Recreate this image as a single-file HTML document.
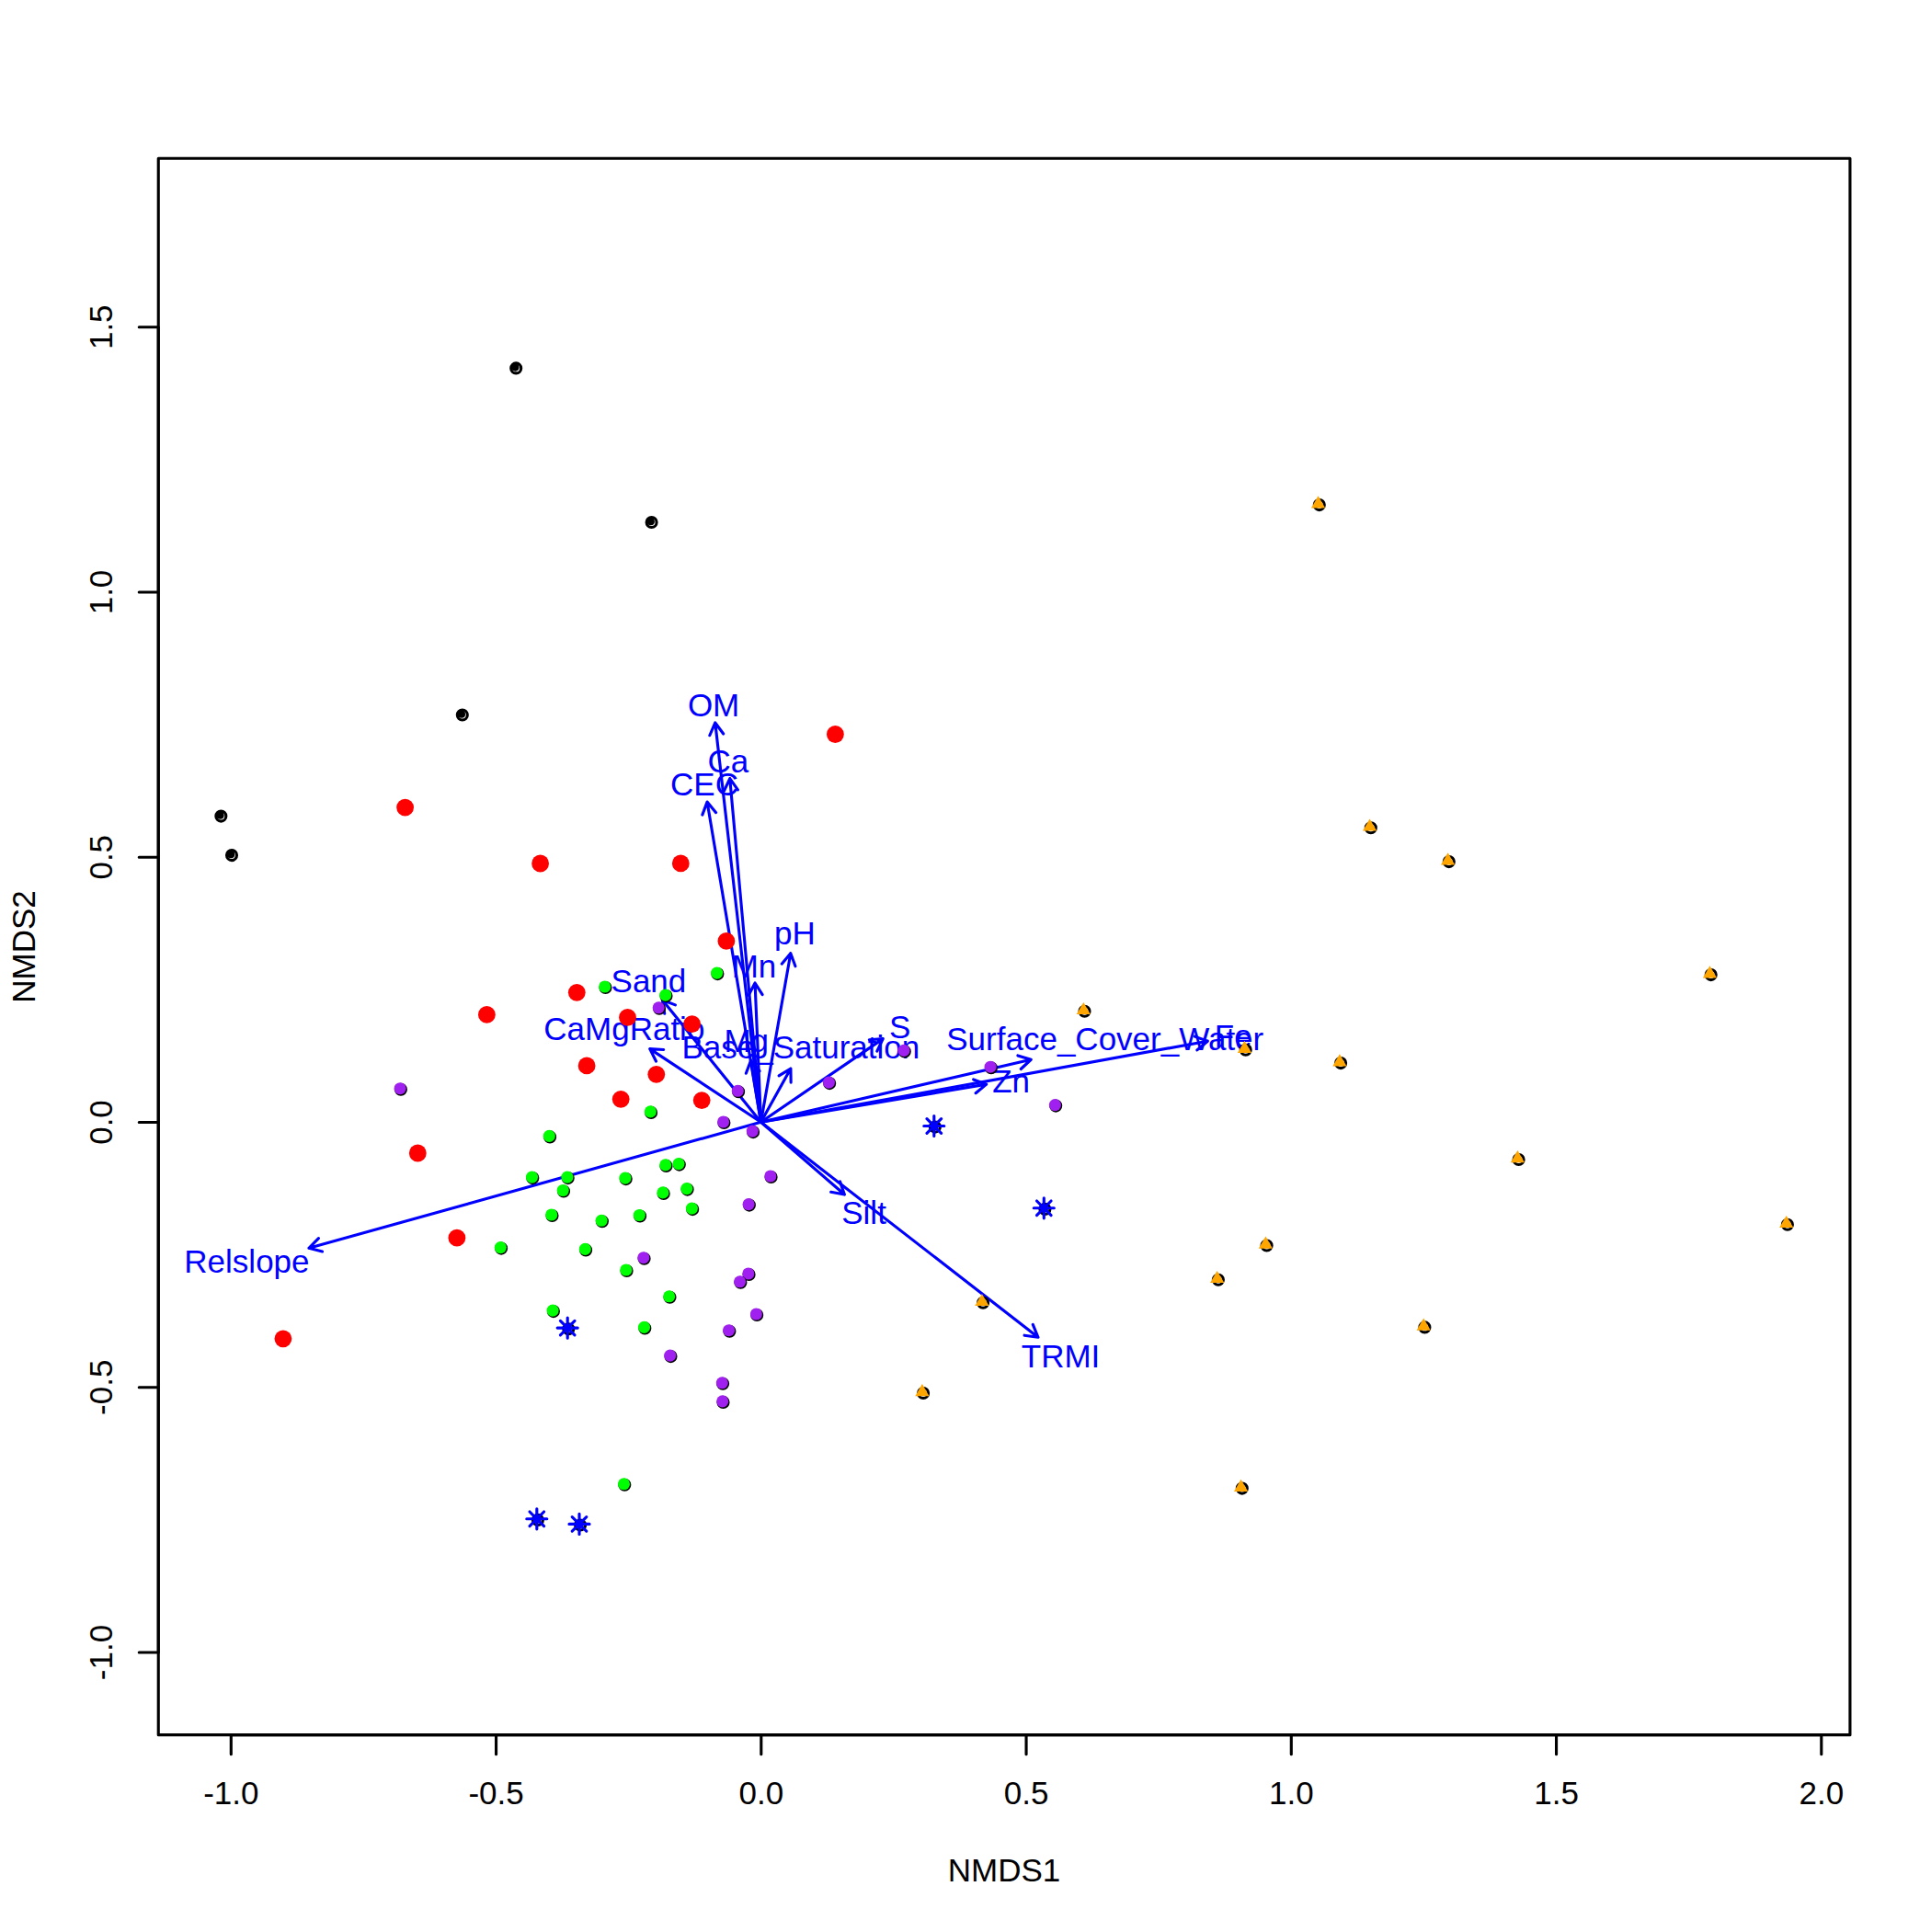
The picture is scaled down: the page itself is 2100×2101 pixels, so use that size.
<!DOCTYPE html>
<html><head><meta charset="utf-8"><title>NMDS ordination</title>
<style>html,body{margin:0;padding:0;background:#fff}svg{display:block}text{font-family:"Liberation Sans",sans-serif;font-size:35px}</style>
</head><body>
<svg width="2100" height="2101" viewBox="0 0 2100 2101">
<rect width="2100" height="2101" fill="#fff"/>
<g fill="none" stroke="#0000FF" stroke-width="3.12" stroke-linecap="round" stroke-linejoin="round">
<path d="M827.5 1220.3L777.78 785.99M771.81 799.75L777.78 785.99L786.71 798.04"/>
<path d="M827.5 1220.3L793.74 846.59M787.44 860.21L793.74 846.59L802.38 858.86"/>
<path d="M827.5 1220.3L769.06 872.08M763.82 886.13L769.06 872.08L778.61 883.65"/>
<path d="M827.5 1220.3L859.82 1036.68M850.18 1048.17L859.82 1036.68L864.96 1050.77"/>
<path d="M827.5 1220.3L821.07 1069M814.13 1082.3L821.07 1069L829.11 1081.66"/>
<path d="M827.5 1220.3L720.4 1087.45M722.72 1102.27L720.4 1087.45L734.4 1092.85"/>
<path d="M827.5 1220.3L706.74 1140.58M713.44 1154L706.74 1140.58L721.71 1141.48"/>
<path d="M827.5 1220.3L816.66 1153.18M811.32 1167.2L816.66 1153.18L826.13 1164.81"/>
<path d="M827.5 1220.3L859.92 1162.1M847.05 1169.8L859.92 1162.1L860.15 1177.1"/>
<path d="M827.5 1220.3L960.28 1129.6M945.32 1130.74L960.28 1129.6L953.78 1143.12"/>
<path d="M827.5 1220.3L1121.24 1152.26M1106.89 1147.89L1121.24 1152.26L1110.28 1162.5"/>
<path d="M827.5 1220.3L1313.33 1132.19M1299.21 1127.12L1313.33 1132.19L1301.88 1141.88"/>
<path d="M827.5 1220.3L1072.72 1179.16M1058.67 1173.92L1072.72 1179.16L1061.15 1188.71"/>
<path d="M827.5 1220.3L918.39 1299.05M913.48 1284.88L918.39 1299.05L903.66 1296.21"/>
<path d="M827.5 1220.3L1128.94 1454.22M1123.27 1440.33L1128.94 1454.22L1114.08 1452.18"/>
<path d="M827.5 1220.3L335.94 1357.27M350.47 1361.01L335.94 1357.27L346.44 1346.56"/>
</g>
<g fill="#0000FF" text-anchor="middle">
<text x="776.1" y="778.6">OM</text>
<text x="791.9" y="839.8">Ca</text>
<text x="766" y="864.5">CEC</text>
<text x="864.35" y="1027.1">pH</text>
<text x="820" y="1062.7">Mn</text>
<text x="705.45" y="1078.9">Sand</text>
<text x="678.85" y="1130.5">CaMgRatio</text>
<text x="811.75" y="1143.6">Mg</text>
<text x="870.8" y="1151.3">Base_Saturation</text>
<text x="978.75" y="1128.9">S</text>
<text x="1201.75" y="1142">Surface_Cover_Water</text>
<text x="1341.3" y="1139">Fe</text>
<text x="1099.6" y="1187.7">Zn</text>
<text x="939.55" y="1330.8">Silt</text>
<text x="1153.55" y="1486.6">TRMI</text>
<text x="268.45" y="1384.3">Relslope</text>
</g>
<g>
<circle cx="561.2" cy="400.4" r="5.5" fill="none" stroke="#000" stroke-width="3.1"/>
<circle cx="560.35" cy="399.55" r="4.1" fill="#000"/>
<circle cx="708.6" cy="568" r="5.5" fill="none" stroke="#000" stroke-width="3.1"/>
<circle cx="707.75" cy="567.15" r="4.1" fill="#000"/>
<circle cx="502.8" cy="777.5" r="5.5" fill="none" stroke="#000" stroke-width="3.1"/>
<circle cx="501.95" cy="776.65" r="4.1" fill="#000"/>
<circle cx="240.35" cy="887.6" r="5.5" fill="none" stroke="#000" stroke-width="3.1"/>
<circle cx="239.5" cy="886.75" r="4.1" fill="#000"/>
<circle cx="252" cy="930.1" r="5.5" fill="none" stroke="#000" stroke-width="3.1"/>
<circle cx="251.15" cy="929.25" r="4.1" fill="#000"/>
<circle cx="908.4" cy="798.5" r="9.4" fill="#FF0000"/>
<circle cx="440.6" cy="878.1" r="9.4" fill="#FF0000"/>
<circle cx="587.6" cy="939" r="9.4" fill="#FF0000"/>
<circle cx="740.3" cy="938.9" r="9.4" fill="#FF0000"/>
<circle cx="789.9" cy="1023.4" r="9.4" fill="#FF0000"/>
<circle cx="627.3" cy="1079.3" r="9.4" fill="#FF0000"/>
<circle cx="529.4" cy="1103.4" r="9.4" fill="#FF0000"/>
<circle cx="682.5" cy="1106.4" r="9.4" fill="#FF0000"/>
<circle cx="752.6" cy="1113.7" r="9.4" fill="#FF0000"/>
<circle cx="638.1" cy="1158.9" r="9.4" fill="#FF0000"/>
<circle cx="713.8" cy="1168.3" r="9.4" fill="#FF0000"/>
<circle cx="675.2" cy="1195.3" r="9.4" fill="#FF0000"/>
<circle cx="763.2" cy="1196.6" r="9.4" fill="#FF0000"/>
<circle cx="454.3" cy="1254" r="9.4" fill="#FF0000"/>
<circle cx="496.9" cy="1346.2" r="9.4" fill="#FF0000"/>
<circle cx="307.9" cy="1455.8" r="9.4" fill="#FF0000"/>
<circle cx="780.4" cy="1059.1" r="5.5" fill="none" stroke="#000" stroke-width="3.1"/>
<circle cx="779.6" cy="1058.1" r="6.55" fill="#00FF00"/>
<circle cx="658.5" cy="1074" r="5.5" fill="none" stroke="#000" stroke-width="3.1"/>
<circle cx="657.7" cy="1073" r="6.55" fill="#00FF00"/>
<circle cx="724.5" cy="1083.1" r="5.5" fill="none" stroke="#000" stroke-width="3.1"/>
<circle cx="723.7" cy="1082.1" r="6.55" fill="#00FF00"/>
<circle cx="708.1" cy="1209.9" r="5.5" fill="none" stroke="#000" stroke-width="3.1"/>
<circle cx="707.3" cy="1208.9" r="6.55" fill="#00FF00"/>
<circle cx="598.1" cy="1236.4" r="5.5" fill="none" stroke="#000" stroke-width="3.1"/>
<circle cx="597.3" cy="1235.4" r="6.55" fill="#00FF00"/>
<circle cx="724.5" cy="1267.9" r="5.5" fill="none" stroke="#000" stroke-width="3.1"/>
<circle cx="723.7" cy="1266.9" r="6.55" fill="#00FF00"/>
<circle cx="738.8" cy="1266.6" r="5.5" fill="none" stroke="#000" stroke-width="3.1"/>
<circle cx="738" cy="1265.6" r="6.55" fill="#00FF00"/>
<circle cx="579.3" cy="1281.1" r="5.5" fill="none" stroke="#000" stroke-width="3.1"/>
<circle cx="578.5" cy="1280.1" r="6.55" fill="#00FF00"/>
<circle cx="617.7" cy="1281.1" r="5.5" fill="none" stroke="#000" stroke-width="3.1"/>
<circle cx="616.9" cy="1280.1" r="6.55" fill="#00FF00"/>
<circle cx="680.7" cy="1282.1" r="5.5" fill="none" stroke="#000" stroke-width="3.1"/>
<circle cx="679.9" cy="1281.1" r="6.55" fill="#00FF00"/>
<circle cx="613" cy="1295.5" r="5.5" fill="none" stroke="#000" stroke-width="3.1"/>
<circle cx="612.2" cy="1294.5" r="6.55" fill="#00FF00"/>
<circle cx="747.6" cy="1293.6" r="5.5" fill="none" stroke="#000" stroke-width="3.1"/>
<circle cx="746.8" cy="1292.6" r="6.55" fill="#00FF00"/>
<circle cx="721.7" cy="1297.9" r="5.5" fill="none" stroke="#000" stroke-width="3.1"/>
<circle cx="720.9" cy="1296.9" r="6.55" fill="#00FF00"/>
<circle cx="753.2" cy="1315.1" r="5.5" fill="none" stroke="#000" stroke-width="3.1"/>
<circle cx="752.4" cy="1314.1" r="6.55" fill="#00FF00"/>
<circle cx="600.5" cy="1322" r="5.5" fill="none" stroke="#000" stroke-width="3.1"/>
<circle cx="599.7" cy="1321" r="6.55" fill="#00FF00"/>
<circle cx="696.1" cy="1322.5" r="5.5" fill="none" stroke="#000" stroke-width="3.1"/>
<circle cx="695.3" cy="1321.5" r="6.55" fill="#00FF00"/>
<circle cx="654.9" cy="1328.3" r="5.5" fill="none" stroke="#000" stroke-width="3.1"/>
<circle cx="654.1" cy="1327.3" r="6.55" fill="#00FF00"/>
<circle cx="637.1" cy="1359.4" r="5.5" fill="none" stroke="#000" stroke-width="3.1"/>
<circle cx="636.3" cy="1358.4" r="6.55" fill="#00FF00"/>
<circle cx="681.6" cy="1382" r="5.5" fill="none" stroke="#000" stroke-width="3.1"/>
<circle cx="680.8" cy="1381" r="6.55" fill="#00FF00"/>
<circle cx="545.1" cy="1357.6" r="5.5" fill="none" stroke="#000" stroke-width="3.1"/>
<circle cx="544.3" cy="1356.6" r="6.55" fill="#00FF00"/>
<circle cx="728.5" cy="1410.8" r="5.5" fill="none" stroke="#000" stroke-width="3.1"/>
<circle cx="727.7" cy="1409.8" r="6.55" fill="#00FF00"/>
<circle cx="601.9" cy="1426.1" r="5.5" fill="none" stroke="#000" stroke-width="3.1"/>
<circle cx="601.1" cy="1425.1" r="6.55" fill="#00FF00"/>
<circle cx="701.3" cy="1444.4" r="5.5" fill="none" stroke="#000" stroke-width="3.1"/>
<circle cx="700.5" cy="1443.4" r="6.55" fill="#00FF00"/>
<circle cx="679.3" cy="1614.8" r="5.5" fill="none" stroke="#000" stroke-width="3.1"/>
<circle cx="678.5" cy="1613.8" r="6.55" fill="#00FF00"/>
<circle cx="717" cy="1096.8" r="5.5" fill="none" stroke="#000" stroke-width="3.1"/>
<circle cx="716.2" cy="1095.8" r="6.55" fill="#A020F0"/>
<circle cx="803.1" cy="1187.3" r="5.5" fill="none" stroke="#000" stroke-width="3.1"/>
<circle cx="802.3" cy="1186.3" r="6.55" fill="#A020F0"/>
<circle cx="902.2" cy="1178.1" r="5.5" fill="none" stroke="#000" stroke-width="3.1"/>
<circle cx="901.4" cy="1177.1" r="6.55" fill="#A020F0"/>
<circle cx="787.4" cy="1221" r="5.5" fill="none" stroke="#000" stroke-width="3.1"/>
<circle cx="786.6" cy="1220" r="6.55" fill="#A020F0"/>
<circle cx="819.1" cy="1231.1" r="5.5" fill="none" stroke="#000" stroke-width="3.1"/>
<circle cx="818.3" cy="1230.1" r="6.55" fill="#A020F0"/>
<circle cx="838.6" cy="1280" r="5.5" fill="none" stroke="#000" stroke-width="3.1"/>
<circle cx="837.8" cy="1279" r="6.55" fill="#A020F0"/>
<circle cx="814.9" cy="1310.6" r="5.5" fill="none" stroke="#000" stroke-width="3.1"/>
<circle cx="814.1" cy="1309.6" r="6.55" fill="#A020F0"/>
<circle cx="700.6" cy="1368.7" r="5.5" fill="none" stroke="#000" stroke-width="3.1"/>
<circle cx="699.8" cy="1367.7" r="6.55" fill="#A020F0"/>
<circle cx="814.6" cy="1386" r="5.5" fill="none" stroke="#000" stroke-width="3.1"/>
<circle cx="813.8" cy="1385" r="6.55" fill="#A020F0"/>
<circle cx="805.4" cy="1394.8" r="5.5" fill="none" stroke="#000" stroke-width="3.1"/>
<circle cx="804.6" cy="1393.8" r="6.55" fill="#A020F0"/>
<circle cx="435.9" cy="1184.7" r="5.5" fill="none" stroke="#000" stroke-width="3.1"/>
<circle cx="435.1" cy="1183.7" r="6.55" fill="#A020F0"/>
<circle cx="983.8" cy="1143.4" r="5.5" fill="none" stroke="#000" stroke-width="3.1"/>
<circle cx="983" cy="1142.4" r="6.55" fill="#A020F0"/>
<circle cx="1077.9" cy="1161.2" r="5.5" fill="none" stroke="#000" stroke-width="3.1"/>
<circle cx="1077.1" cy="1160.2" r="6.55" fill="#A020F0"/>
<circle cx="1148.2" cy="1202.6" r="5.5" fill="none" stroke="#000" stroke-width="3.1"/>
<circle cx="1147.4" cy="1201.6" r="6.55" fill="#A020F0"/>
<circle cx="823.2" cy="1430" r="5.5" fill="none" stroke="#000" stroke-width="3.1"/>
<circle cx="822.4" cy="1429" r="6.55" fill="#A020F0"/>
<circle cx="793.4" cy="1447.7" r="5.5" fill="none" stroke="#000" stroke-width="3.1"/>
<circle cx="792.6" cy="1446.7" r="6.55" fill="#A020F0"/>
<circle cx="729.5" cy="1475.1" r="5.5" fill="none" stroke="#000" stroke-width="3.1"/>
<circle cx="728.7" cy="1474.1" r="6.55" fill="#A020F0"/>
<circle cx="786.1" cy="1504.8" r="5.5" fill="none" stroke="#000" stroke-width="3.1"/>
<circle cx="785.3" cy="1503.8" r="6.55" fill="#A020F0"/>
<circle cx="786.5" cy="1524.9" r="5.5" fill="none" stroke="#000" stroke-width="3.1"/>
<circle cx="785.7" cy="1523.9" r="6.55" fill="#A020F0"/>
<circle cx="1434.8" cy="549.1" r="5.5" fill="none" stroke="#000" stroke-width="3.1"/>
<path d="M1433.6 539.2L1441.22 552.4L1425.98 552.4Z" fill="#FFA500"/>
<circle cx="1490.8" cy="900.3" r="5.5" fill="none" stroke="#000" stroke-width="3.1"/>
<path d="M1489.6 890.4L1497.22 903.6L1481.98 903.6Z" fill="#FFA500"/>
<circle cx="1575.8" cy="937.1" r="5.5" fill="none" stroke="#000" stroke-width="3.1"/>
<path d="M1574.6 927.2L1582.22 940.4L1566.98 940.4Z" fill="#FFA500"/>
<circle cx="1179.5" cy="1099.8" r="5.5" fill="none" stroke="#000" stroke-width="3.1"/>
<path d="M1178.3 1089.9L1185.92 1103.1L1170.68 1103.1Z" fill="#FFA500"/>
<circle cx="1354.7" cy="1141.7" r="5.5" fill="none" stroke="#000" stroke-width="3.1"/>
<path d="M1353.5 1131.8L1361.12 1145L1345.88 1145Z" fill="#FFA500"/>
<circle cx="1458.1" cy="1156.1" r="5.5" fill="none" stroke="#000" stroke-width="3.1"/>
<path d="M1456.9 1146.2L1464.52 1159.4L1449.28 1159.4Z" fill="#FFA500"/>
<circle cx="1860.7" cy="1060.1" r="5.5" fill="none" stroke="#000" stroke-width="3.1"/>
<path d="M1859.5 1050.2L1867.12 1063.4L1851.88 1063.4Z" fill="#FFA500"/>
<circle cx="1651.6" cy="1261" r="5.5" fill="none" stroke="#000" stroke-width="3.1"/>
<path d="M1650.4 1251.1L1658.02 1264.3L1642.78 1264.3Z" fill="#FFA500"/>
<circle cx="1943.9" cy="1331.8" r="5.5" fill="none" stroke="#000" stroke-width="3.1"/>
<path d="M1942.7 1321.9L1950.32 1335.1L1935.08 1335.1Z" fill="#FFA500"/>
<circle cx="1377.6" cy="1354.5" r="5.5" fill="none" stroke="#000" stroke-width="3.1"/>
<path d="M1376.4 1344.6L1384.02 1357.8L1368.78 1357.8Z" fill="#FFA500"/>
<circle cx="1324.9" cy="1391.8" r="5.5" fill="none" stroke="#000" stroke-width="3.1"/>
<path d="M1323.7 1381.9L1331.32 1395.1L1316.08 1395.1Z" fill="#FFA500"/>
<circle cx="1549.4" cy="1443.4" r="5.5" fill="none" stroke="#000" stroke-width="3.1"/>
<path d="M1548.2 1433.5L1555.82 1446.7L1540.58 1446.7Z" fill="#FFA500"/>
<circle cx="1069.1" cy="1416.8" r="5.5" fill="none" stroke="#000" stroke-width="3.1"/>
<path d="M1067.9 1406.9L1075.52 1420.1L1060.28 1420.1Z" fill="#FFA500"/>
<circle cx="1004.1" cy="1515" r="5.5" fill="none" stroke="#000" stroke-width="3.1"/>
<path d="M1002.9 1505.1L1010.52 1518.3L995.28 1518.3Z" fill="#FFA500"/>
<circle cx="1350.8" cy="1618.6" r="5.5" fill="none" stroke="#000" stroke-width="3.1"/>
<path d="M1349.6 1608.7L1357.22 1621.9L1341.98 1621.9Z" fill="#FFA500"/>
<circle cx="1016.9" cy="1225.6" r="5.5" fill="none" stroke="#000" stroke-width="3.1"/>
<circle cx="1016.2" cy="1224.9" r="4.25" fill="#000"/>
<path d="M1008 1216.7L1023.6 1232.3M1008 1232.3L1023.6 1216.7M1004.77 1224.5L1026.83 1224.5M1015.8 1213.47L1015.8 1235.53" fill="none" stroke="#0000FF" stroke-width="3.12" stroke-linecap="round"/>
<circle cx="1136.4" cy="1314.9" r="5.5" fill="none" stroke="#000" stroke-width="3.1"/>
<circle cx="1135.7" cy="1314.2" r="4.25" fill="#000"/>
<path d="M1127.5 1306L1143.1 1321.6M1127.5 1321.6L1143.1 1306M1124.27 1313.8L1146.33 1313.8M1135.3 1302.77L1135.3 1324.83" fill="none" stroke="#0000FF" stroke-width="3.12" stroke-linecap="round"/>
<circle cx="618.3" cy="1445.2" r="5.5" fill="none" stroke="#000" stroke-width="3.1"/>
<circle cx="617.6" cy="1444.5" r="4.25" fill="#000"/>
<path d="M609.4 1436.3L625 1451.9M609.4 1451.9L625 1436.3M606.17 1444.1L628.23 1444.1M617.2 1433.07L617.2 1455.13" fill="none" stroke="#0000FF" stroke-width="3.12" stroke-linecap="round"/>
<circle cx="584.9" cy="1652.9" r="5.5" fill="none" stroke="#000" stroke-width="3.1"/>
<circle cx="584.2" cy="1652.2" r="4.25" fill="#000"/>
<path d="M576 1644L591.6 1659.6M576 1659.6L591.6 1644M572.77 1651.8L594.83 1651.8M583.8 1640.77L583.8 1662.83" fill="none" stroke="#0000FF" stroke-width="3.12" stroke-linecap="round"/>
<circle cx="631.1" cy="1658.5" r="5.5" fill="none" stroke="#000" stroke-width="3.1"/>
<circle cx="630.4" cy="1657.8" r="4.25" fill="#000"/>
<path d="M622.2 1649.6L637.8 1665.2M622.2 1665.2L637.8 1649.6M618.97 1657.4L641.03 1657.4M630 1646.37L630 1668.43" fill="none" stroke="#0000FF" stroke-width="3.12" stroke-linecap="round"/>
</g>
<g fill="none" stroke="#000" stroke-width="3.12" stroke-linecap="round" stroke-linejoin="round">
<rect x="172.25" y="172.2" width="1839.68" height="1714.45"/>
<path d="M251.3 1886.65L1980.8 1886.65M251.3 1886.65L251.3 1907.65M539.55 1886.65L539.55 1907.65M827.8 1886.65L827.8 1907.65M1116.05 1886.65L1116.05 1907.65M1404.3 1886.65L1404.3 1907.65M1692.55 1886.65L1692.55 1907.65M1980.8 1886.65L1980.8 1907.65M172.25 1797L172.25 355.75M172.25 1797L151.25 1797M172.25 1508.75L151.25 1508.75M172.25 1220.5L151.25 1220.5M172.25 932.25L151.25 932.25M172.25 644L151.25 644M172.25 355.75L151.25 355.75"/>
</g>
<g fill="#000" text-anchor="middle">
<text x="251.3" y="1961.8">-1.0</text>
<text x="539.55" y="1961.8">-0.5</text>
<text x="827.8" y="1961.8">0.0</text>
<text x="1116.05" y="1961.8">0.5</text>
<text x="1404.3" y="1961.8">1.0</text>
<text x="1692.55" y="1961.8">1.5</text>
<text x="1980.8" y="1961.8">2.0</text>
<text transform="translate(122 1797) rotate(-90)">-1.0</text>
<text transform="translate(122 1508.75) rotate(-90)">-0.5</text>
<text transform="translate(122 1220.5) rotate(-90)">0.0</text>
<text transform="translate(122 932.25) rotate(-90)">0.5</text>
<text transform="translate(122 644) rotate(-90)">1.0</text>
<text transform="translate(122 355.75) rotate(-90)">1.5</text>
<text x="1092.09" y="2045.7">NMDS1</text>
<text transform="translate(37.8 1029.42) rotate(-90)">NMDS2</text>
</g>
</svg></body></html>
